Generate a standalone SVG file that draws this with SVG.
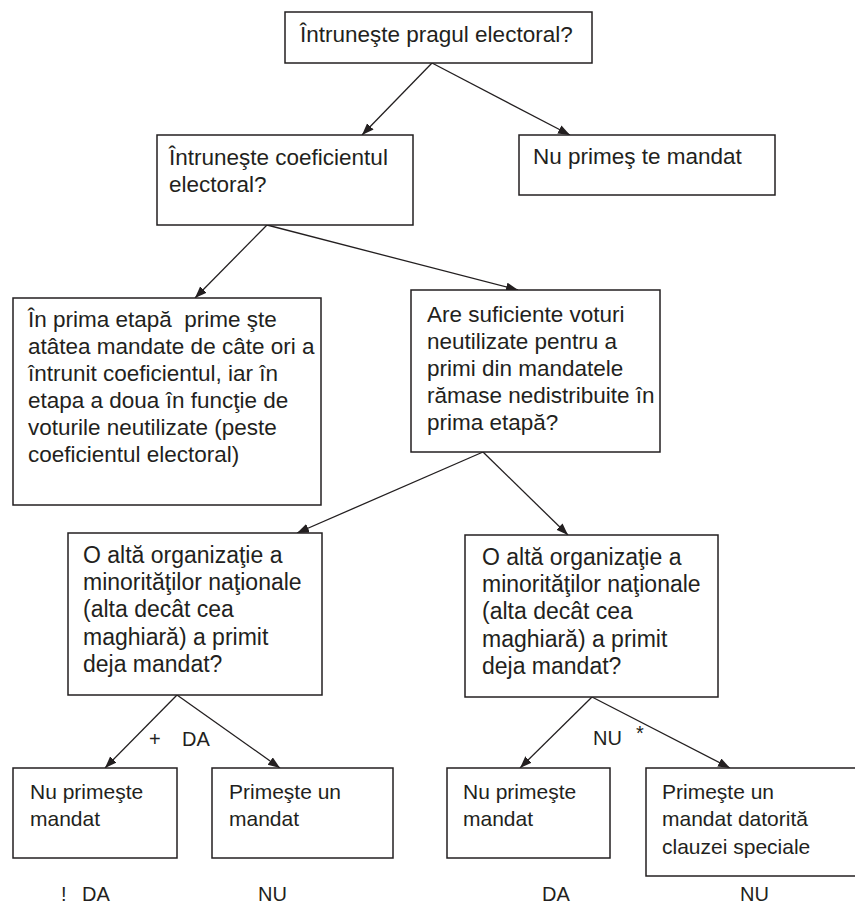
<svg xmlns="http://www.w3.org/2000/svg" width="855" height="909" viewBox="0 0 855 909">
  <defs>
    <marker id="arrow" markerWidth="13" markerHeight="10" refX="12" refY="4.5" orient="auto" markerUnits="userSpaceOnUse">
      <path d="M0,0 L12,4.5 L0,9 z" fill="#231f20"/>
    </marker>
    <style>
      .box { fill: #ffffff; stroke: #231f20; stroke-width: 1.5; }
      .edge { fill: none; stroke: #231f20; stroke-width: 1.3; marker-end: url(#arrow); }
      text { font-family: "Liberation Sans", Arial, sans-serif; fill: #231f20; white-space: pre; }
      .t { font-size: 22.5px; }
      .m { font-size: 23px; }
      .s { font-size: 21px; }
      .l { font-size: 20px; }
    </style>
  </defs>
  <rect width="855" height="909" fill="#ffffff"/>

  <!-- connectors -->
  <g id="connectors">
    <line class="edge" x1="432" y1="63" x2="362" y2="135"/>
    <line class="edge" x1="432" y1="63" x2="570" y2="135"/>
    <line class="edge" x1="267" y1="225" x2="195" y2="298"/>
    <line class="edge" x1="267" y1="225" x2="518" y2="290"/>
    <line class="edge" x1="483" y1="452" x2="297" y2="533"/>
    <line class="edge" x1="483" y1="452" x2="568" y2="535"/>
    <line class="edge" x1="177" y1="695" x2="105" y2="768"/>
    <line class="edge" x1="177" y1="695" x2="280" y2="768"/>
    <line class="edge" x1="592" y1="697" x2="520" y2="768"/>
    <line class="edge" x1="592" y1="697" x2="730" y2="768"/>
  </g>

  <!-- edge labels -->
  <g id="edge-labels">
    <text class="l" x="149" y="746">+</text>
    <text class="l" x="182" y="746">DA</text>
    <text class="l" x="593" y="745">NU</text>
    <text class="l" x="636" y="740">*</text>
  </g>

  <g id="n-prag">
    <rect class="box" x="285" y="12" width="307" height="51"/>
    <text class="t" x="300" y="42">Întruneşte pragul electoral?</text>
  </g>

  <g id="n-coef">
    <rect class="box" x="157" y="135" width="256" height="90"/>
    <text class="t" x="169" y="165">Întruneşte coeficientul</text>
    <text class="t" x="169" y="192">electoral?</text>
  </g>

  <g id="n-fara-mandat">
    <rect class="box" x="519" y="135" width="256" height="60"/>
    <text class="t" x="533" y="164">Nu primeş te mandat</text>
  </g>

  <g id="n-etape">
    <rect class="box" x="13" y="298" width="308" height="207"/>
    <text class="t" x="28" y="327">În prima etapă  prime şte</text>
    <text class="t" x="28" y="354">atâtea mandate de câte ori a</text>
    <text class="t" x="28" y="381">întrunit coeficientul, iar în</text>
    <text class="t" x="28" y="408">etapa a doua în funcţie de</text>
    <text class="t" x="28" y="435">voturile neutilizate (peste</text>
    <text class="t" x="28" y="462">coeficientul electoral)</text>
  </g>

  <g id="n-voturi">
    <rect class="box" x="411" y="290" width="249" height="162"/>
    <text class="t" x="427" y="322">Are suficiente voturi</text>
    <text class="t" x="427" y="349">neutilizate pentru a</text>
    <text class="t" x="427" y="376">primi din mandatele</text>
    <text class="t" x="427" y="403">rămase nedistribuite în</text>
    <text class="t" x="427" y="430">prima etapă?</text>
  </g>

  <g id="n-alta-org-1">
    <rect class="box" x="68" y="533" width="254" height="162"/>
    <text class="m" x="83" y="563">O altă organizaţie a</text>
    <text class="m" x="83" y="590">minorităţilor naţionale</text>
    <text class="m" x="83" y="617">(alta decât cea</text>
    <text class="m" x="83" y="645">maghiară) a primit</text>
    <text class="m" x="83" y="672">deja mandat?</text>
  </g>

  <g id="n-alta-org-2">
    <rect class="box" x="465" y="535" width="253" height="162"/>
    <text class="m" x="482" y="565">O altă organizaţie a</text>
    <text class="m" x="482" y="592">minorităţilor naţionale</text>
    <text class="m" x="482" y="619">(alta decât cea</text>
    <text class="m" x="482" y="647">maghiară) a primit</text>
    <text class="m" x="482" y="674">deja mandat?</text>
  </g>

  <g id="n-nu-1">
    <rect class="box" x="13" y="768" width="164" height="90"/>
    <text class="s" x="30" y="799">Nu primeşte</text>
    <text class="s" x="30" y="826">mandat</text>
  </g>

  <g id="n-da-1">
    <rect class="box" x="212" y="768" width="181" height="90"/>
    <text class="s" x="229" y="799">Primeşte un</text>
    <text class="s" x="229" y="826">mandat</text>
  </g>

  <g id="n-nu-2">
    <rect class="box" x="447" y="768" width="163" height="90"/>
    <text class="s" x="463" y="799">Nu primeşte</text>
    <text class="s" x="463" y="826">mandat</text>
  </g>

  <g id="n-clauza">
    <rect class="box" x="646" y="768" width="215" height="108"/>
    <text class="s" x="662" y="799">Primeşte un</text>
    <text class="s" x="662" y="826">mandat datorită</text>
    <text class="s" x="662" y="854">clauzei speciale</text>
  </g>

  <!-- outcome labels -->
  <g id="outcomes">
    <text class="l" x="61" y="901">!</text>
    <text class="l" x="82" y="901">DA</text>
    <text class="l" x="258" y="901">NU</text>
    <text class="l" x="542" y="901">DA</text>
    <text class="l" x="740" y="901">NU</text>
  </g>
</svg>
